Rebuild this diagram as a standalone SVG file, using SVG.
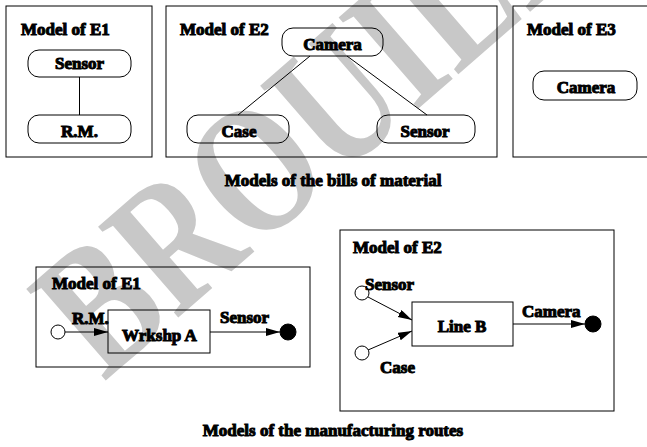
<svg xmlns="http://www.w3.org/2000/svg" width="647" height="447" viewBox="0 0 647 447">
  <style>
    .frame { fill: none; stroke: #000; stroke-width: 1; }
    .node { fill: none; stroke: #000; stroke-width: 1; }
    .link { fill: none; stroke: #000; stroke-width: 1; }
    .port { fill: #fff; stroke: #000; stroke-width: 1; }
    .sink { fill: #000; stroke: #000; stroke-width: 1; }
    text { font-family: "Liberation Serif", "Times New Roman", serif; font-weight: bold; font-size: 17px; fill: #000; stroke: #000; stroke-width: 1; }
    .mid { text-anchor: middle; }
    .stamp { font-size: 185px; fill: #c8c8c8; stroke: none; }
  </style>
  <defs>
    <marker id="arrow" markerUnits="userSpaceOnUse" markerWidth="15" markerHeight="9" refX="14" refY="4" orient="auto">
      <path d="M0,0 L14,4 L0,8 Z" fill="#000"/>
    </marker>
  </defs>

  <rect width="647" height="447" fill="#fff"/>

  <!-- draft stamp behind the drawing, condensed along its baseline -->
  <text class="stamp" transform="translate(104,382) rotate(-41) scale(0.77,1)">BROUILLON</text>

  <!-- bills of material -->
  <g id="bom-e1">
    <rect class="frame" x="6" y="6" width="146" height="151"/>
    <text x="21" y="35">Model of E1</text>
  </g>
  <g id="bom-e1-sensor">
    <rect class="node" x="28" y="50" width="103" height="27" rx="11"/>
    <text class="mid" x="79.5" y="69">Sensor</text>
  </g>
  <g id="bom-e1-rm">
    <rect class="node" x="28" y="115" width="103" height="28" rx="11"/>
    <text class="mid" x="79.5" y="137">R.M.</text>
  </g>

  <g id="bom-e2">
    <rect class="frame" x="166" y="6" width="331" height="151"/>
    <text x="180" y="35">Model of E2</text>
  </g>
  <g id="bom-e2-camera">
    <rect class="node" x="282" y="28" width="101" height="28" rx="11"/>
    <text class="mid" x="332.5" y="50">Camera</text>
  </g>
  <g id="bom-e2-case">
    <rect class="node" x="187" y="115" width="102" height="28" rx="11"/>
    <text class="mid" x="239" y="137">Case</text>
  </g>
  <g id="bom-e2-sensor">
    <rect class="node" x="377" y="115" width="98" height="28" rx="11"/>
    <text class="mid" x="425" y="137">Sensor</text>
  </g>

  <g id="bom-e3">
    <rect class="frame" x="513" y="6" width="150" height="151"/>
    <text x="527" y="35">Model of E3</text>
  </g>
  <g id="bom-e3-camera">
    <rect class="node" x="533" y="71" width="104" height="29" rx="11"/>
    <text class="mid" x="586" y="93">Camera</text>
  </g>

  <text id="caption-bom" class="mid" x="333" y="186">Models of the bills of material</text>

  <!-- manufacturing routes -->
  <g id="route-e1">
    <rect class="frame" x="36" y="267" width="274" height="100"/>
    <text x="52" y="289">Model of E1</text>
  </g>
  <g id="route-e1-in">
    <circle class="port" cx="58" cy="332" r="7"/>
  </g>
  <g id="route-e1-wrkshp">
    <rect class="node" x="108" y="310" width="102" height="43"/>
    <text class="mid" x="159.5" y="341">Wrkshp A</text>
  </g>
  <g id="route-e1-out">
    <circle class="sink" cx="288" cy="332" r="8"/>
  </g>

  <g id="route-e2">
    <rect class="frame" x="340" y="230" width="274" height="181"/>
    <text x="353" y="253">Model of E2</text>
  </g>
  <g id="route-e2-in-sensor">
    <circle class="port" cx="362" cy="293" r="7"/>
  </g>
  <g id="route-e2-in-case">
    <circle class="port" cx="362" cy="353" r="7"/>
  </g>
  <g id="route-e2-line">
    <rect class="node" x="412" y="302" width="101" height="44"/>
    <text class="mid" x="462" y="332">Line B</text>
  </g>
  <g id="route-e2-out">
    <circle class="sink" cx="593" cy="324" r="8"/>
  </g>

  <g id="connectors">
    <line class="link" x1="79.5" y1="77" x2="79.5" y2="115"/>
    <line class="link" x1="310" y1="56" x2="238" y2="115"/>
    <line class="link" x1="347" y1="56" x2="427" y2="115"/>

    <line class="link" x1="65" y1="332" x2="108" y2="332" marker-end="url(#arrow)"/>
    <text x="72" y="324">R.M.</text>
    <line class="link" x1="210" y1="332" x2="280" y2="332" marker-end="url(#arrow)"/>
    <text x="220" y="323">Sensor</text>

    <line class="link" x1="368" y1="297" x2="412" y2="320" marker-end="url(#arrow)"/>
    <text x="365" y="290">Sensor</text>
    <line class="link" x1="368" y1="350" x2="412" y2="331" marker-end="url(#arrow)"/>
    <text x="380" y="373">Case</text>
    <line class="link" x1="513" y1="324" x2="585" y2="324" marker-end="url(#arrow)"/>
    <text x="522" y="317">Camera</text>
  </g>

  <text id="caption-routes" class="mid" x="333" y="436">Models of the manufacturing routes</text>
</svg>
